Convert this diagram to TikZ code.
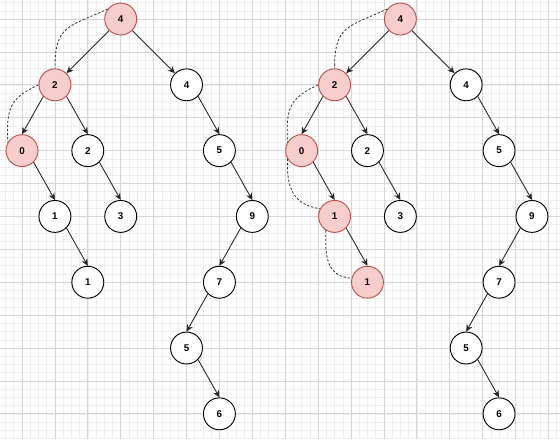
\documentclass[tikz,border=0pt]{standalone}
\usepackage{fontspec}
\setmainfont{Liberation Sans}
\definecolor{GridMajor}{RGB}{214,214,214}
\definecolor{GridMinor}{RGB}{238,238,238}
\definecolor{PathFill}{RGB}{248,206,204}
\definecolor{PathDraw}{RGB}{184,84,80}
\usetikzlibrary{arrows.meta}

\begin{document}
\begin{tikzpicture}[
  minorgrid/.style={draw=GridMinor, line width=0.5pt},
  majorgrid/.style={draw=GridMajor, line width=0.6pt},
  tnode/.style={circle, draw=black, fill=white, line width=0.8pt,
                minimum size=0.97cm, inner sep=0pt,
                font=\fontsize{8.5}{10}\selectfont\bfseries},
  hnode/.style={tnode, fill=PathFill, draw=PathDraw},
  edge/.style={-{Stealth[length=6pt,width=5.5pt]}, line width=0.75pt, black!85},
  trail/.style={dash pattern=on 2pt off 1.6pt, line width=0.7pt, black!80},
]
  \useasboundingbox (-0.669,0.578) rectangle (16.352,-12.766);
  \fill[white] (-0.669,0.578) rectangle (16.352,-12.766);
  \draw[minorgrid] (-0.669,-12.766) grid[step=0.25] (16.352,0.578);
  \draw[majorgrid] (-0.669,-12.766) grid[step=1] (16.352,0.578);

  % left tree
  \node[hnode] (a4) at (3,0) {4};
  \node[hnode] (a2) at (1,-2) {2};
  \node[tnode] (a4r) at (5,-2) {4};
  \node[hnode] (a0) at (0,-4) {0};
  \node[tnode] (a2r) at (2,-4) {2};
  \node[tnode] (a5) at (6,-4) {5};
  \node[tnode] (a1) at (1,-6) {1};
  \node[tnode] (a3) at (3,-6) {3};
  \node[tnode] (a9) at (7,-6) {9};
  \node[tnode] (a1r) at (2,-8) {1};
  \node[tnode] (a7) at (6,-8) {7};
  \node[tnode] (a5r) at (5,-10) {5};
  \node[tnode] (a6) at (6,-12) {6};

  \draw[edge] (a4.south west) -- (a2.north east);
  \draw[edge] (a4.south east) -- (a4r.north west);
  \draw[edge] (a2.south west) -- (a0.north);
  \draw[edge] (a2.south east) -- (a2r.north);
  \draw[edge] (a4r.south east) -- (a5.north);
  \draw[edge] (a0.south east) -- (a1.north);
  \draw[edge] (a2r.south east) -- (a3.north);
  \draw[edge] (a5.south east) -- (a9.north);
  \draw[edge] (a1.south east) -- (a1r.north);
  \draw[edge] (a9.south west) -- (a7.north);
  \draw[edge] (a7.south west) -- (a5r.north);
  \draw[edge] (a5r.south east) -- (a6.north);

  \draw[trail] (a4.142) to[out=205, in=90, looseness=1.4] (a2.north);
  \draw[trail] (a2.west) to[out=205, in=92, looseness=1.3] (a0.150);

  % right tree
  \node[hnode] (b4) at (11.5,0) {4};
  \node[hnode] (b2) at (9.5,-2) {2};
  \node[tnode] (b4r) at (13.5,-2) {4};
  \node[hnode] (b0) at (8.5,-4) {0};
  \node[tnode] (b2r) at (10.5,-4) {2};
  \node[tnode] (b5) at (14.5,-4) {5};
  \node[hnode] (b1) at (9.5,-6) {1};
  \node[tnode] (b3) at (11.5,-6) {3};
  \node[tnode] (b9) at (15.5,-6) {9};
  \node[hnode] (b1r) at (10.5,-8) {1};
  \node[tnode] (b7) at (14.5,-8) {7};
  \node[tnode] (b5r) at (13.5,-10) {5};
  \node[tnode] (b6) at (14.5,-12) {6};

  \draw[edge] (b4.south west) -- (b2.north east);
  \draw[edge] (b4.south east) -- (b4r.north west);
  \draw[edge] (b2.south west) -- (b0.north);
  \draw[edge] (b2.south east) -- (b2r.north);
  \draw[edge] (b4r.south east) -- (b5.north);
  \draw[edge] (b0.south east) -- (b1.north);
  \draw[edge] (b2r.south east) -- (b3.north);
  \draw[edge] (b5.south east) -- (b9.north);
  \draw[edge] (b1.south east) -- (b1r.north);
  \draw[edge] (b9.south west) -- (b7.north);
  \draw[edge] (b7.south west) -- (b5r.north);
  \draw[edge] (b5r.south east) -- (b6.north);

  \draw[trail] (b4.142) to[out=205, in=90, looseness=1.4] (b2.north);
  \draw[trail] (b2.west) to[out=205, in=92, looseness=1.3] (b0.150);
  \draw[trail] (b0.210) to[out=268, in=172, looseness=1.2] (b1.152);
  \draw[trail] (b1.238) to[out=268, in=176, looseness=1.2] (b1r.166);
\end{tikzpicture}
\end{document}
